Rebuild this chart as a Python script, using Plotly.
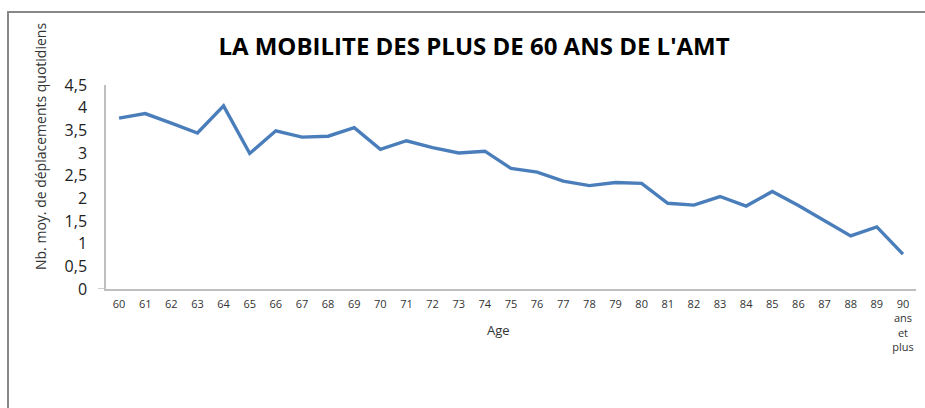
import plotly.graph_objects as go

ages = ["60", "61", "62", "63", "64", "65", "66", "67", "68", "69", "70", "71", "72", "73", "74",
        "75", "76", "77", "78", "79", "80", "81", "82", "83", "84", "85", "86", "87", "88", "89",
        "90<br>ans<br>et<br>plus"]
trips = [3.77, 3.87, 3.66, 3.44, 4.04, 2.99, 3.49, 3.35, 3.37, 3.56, 3.08, 3.27, 3.12, 3.00, 3.04,
         2.66, 2.58, 2.38, 2.28, 2.35, 2.33, 1.89, 1.85, 2.04, 1.83, 2.15, 1.84, 1.50, 1.17, 1.37,
         0.77]
y_ticks = [0, 0.5, 1, 1.5, 2, 2.5, 3, 3.5, 4, 4.5]

W, H = 925, 408
L, R, T, B = 106, 9, 85, 119
pw, ph = W - L - R, H - T - B

def px_x(x):
    return (x - L) / pw

def px_y(y):
    return (H - B - y) / ph

fig = go.Figure(go.Scatter(
    x=ages, y=trips, mode="lines",
    line=dict(color="#4A7EBB", width=3.4),
    hoverinfo="x+y",
))

fig.update_layout(
    width=W, height=H,
    margin=dict(l=L, r=R, t=T, b=B, autoexpand=False),
    paper_bgcolor="white", plot_bgcolor="white",
    separators=", ",
    showlegend=False,
    font=dict(family="Open Sans, sans-serif", color="#333333"),
    title=dict(
        text="<b>LA MOBILITE DES PLUS DE 60 ANS DE L'AMT</b>",
        x=px_x(474), xref="paper", xanchor="center",
        y=1 - 47 / H, yref="container", yanchor="middle",
        font=dict(family="Open Sans, sans-serif", size=24, color="#000000"),
    ),
    xaxis=dict(
        type="category",
        showgrid=False, showline=True, linecolor="#BFBFBF", linewidth=1.5,
        ticks="", tickfont=dict(size=11, color="#333333"),
        ticklabelstandoff=4,
        range=[-0.5, len(ages) - 0.5],
        automargin=False,
    ),
    yaxis=dict(
        range=[0, 4.5],
        tickvals=y_ticks,
        showgrid=False, showline=True, linecolor="#BFBFBF", linewidth=1.5,
        ticks="", tickfont=dict(size=16, color="#222222"),
        ticklabelstandoff=14,
        zeroline=False,
        automargin=False,
    ),
    annotations=[
        dict(
            text="Nb. moy. de déplacements quotidiens",
            textangle=-90, xref="paper", yref="paper",
            x=px_x(40), y=px_y(147), xanchor="center", yanchor="middle",
            showarrow=False, font=dict(size=14, color="#333333"),
        ),
        dict(
            text="Age", xref="paper", yref="paper",
            x=px_x(498), y=px_y(330), xanchor="center", yanchor="middle",
            showarrow=False, font=dict(size=13, color="#333333"),
        ),
    ],
    shapes=[
        dict(
            type="rect", xref="paper", yref="paper",
            x0=px_x(8), x1=px_x(W + 20), y0=px_y(H + 20), y1=px_y(12),
            line=dict(color="#888888", width=2), fillcolor="rgba(0,0,0,0)",
            layer="below",
        ),
        dict(
            type="line", xref="paper", yref="y",
            x0=px_x(98), x1=0, y0=0, y1=0,
            line=dict(color="#BFBFBF", width=1.5),
        ),
    ],
)

fig.write_html(
    "out.html",
    config={"displayModeBar": False},
    post_script="document.body.style.margin='0';document.body.style.overflow='hidden';",
)
